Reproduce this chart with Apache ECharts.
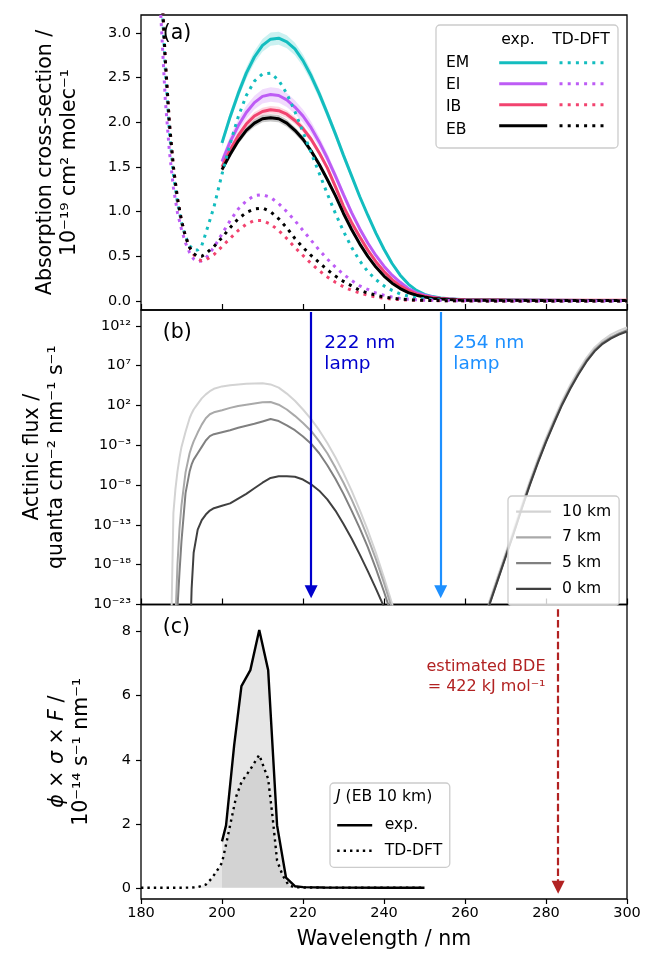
<!DOCTYPE html>
<html>
<head>
<meta charset="utf-8">
<script src="https://cdn.jsdelivr.net/npm/echarts@6/dist/echarts.min.js"></script>
<style>
  html, body { margin: 0; padding: 0; background: #fff; }
  #chart { width: 645px; height: 966px; }
</style>
</head>
<body>
<div id="chart"></div>
<script>
// ---------- (a) absorption cross-sections, 1e-19 cm^2 molec^-1 ----------
const absExpNm = [200, 202, 204, 206, 208, 210, 212, 214, 216, 218, 220, 222, 224, 226, 228, 230,
  232, 234, 236, 238, 240, 242, 244, 246, 248, 250, 252, 254, 256, 258, 260, 270, 280, 290, 300];
const sigmaExpEM = [1.77, 2.06, 2.32, 2.55, 2.73, 2.86, 2.93, 2.94, 2.90, 2.82, 2.69, 2.52, 2.32, 2.10, 1.87, 1.63,
  1.40, 1.17, 0.96, 0.76, 0.58, 0.42, 0.29, 0.19, 0.12, 0.075, 0.05, 0.035, 0.025, 0.02, 0.015, 0.01, 0.008, 0.006, 0.005];
const sigmaExpEI = [1.56, 1.78, 1.96, 2.11, 2.22, 2.29, 2.31, 2.30, 2.25, 2.17, 2.07, 1.94, 1.78, 1.60, 1.40, 1.19,
  0.99, 0.81, 0.65, 0.51, 0.39, 0.29, 0.21, 0.14, 0.095, 0.065, 0.045, 0.03, 0.022, 0.017, 0.013, 0.01, 0.008, 0.006, 0.005];
const sigmaExpIB = [1.50, 1.69, 1.85, 1.98, 2.07, 2.12, 2.14, 2.13, 2.09, 2.02, 1.93, 1.81, 1.66, 1.49, 1.28, 1.06,
  0.88, 0.72, 0.57, 0.44, 0.33, 0.24, 0.17, 0.12, 0.08, 0.055, 0.04, 0.03, 0.022, 0.018, 0.015, 0.012, 0.01, 0.01, 0.01];
const sigmaExpEB = [1.47, 1.64, 1.79, 1.91, 1.99, 2.04, 2.05, 2.04, 1.99, 1.91, 1.81, 1.68, 1.53, 1.36, 1.18, 0.98,
  0.80, 0.64, 0.50, 0.38, 0.28, 0.20, 0.14, 0.095, 0.065, 0.045, 0.03, 0.022, 0.017, 0.013, 0.01, 0.008, 0.006, 0.005, 0.005];
// relative uncertainty of the measured spectra (EM, EI, IB, EB)
const relUncertainty = [0.025, 0.035, 0.02, 0.02];

const absTdNm = [182, 184, 185, 186, 187, 188, 189, 190, 191, 192, 193, 194, 195, 196, 198,
  200, 202, 204, 206, 208, 210, 212, 214, 216, 218, 220, 222, 224, 226, 228, 230,
  232, 234, 236, 238, 240, 242, 244, 246, 248, 250, 252, 254, 256, 258, 260, 270, 280, 290, 300];
const sigmaTdEM = [6.0, 4.4, 3.5, 2.6, 1.9, 1.42, 1.1, 0.88, 0.72, 0.62, 0.57, 0.57, 0.62, 0.76, 1.05,
  1.42, 1.76, 2.06, 2.30, 2.46, 2.54, 2.55, 2.47, 2.32, 2.12, 1.89, 1.66, 1.43, 1.20, 0.98, 0.78,
  0.60, 0.45, 0.33, 0.24, 0.17, 0.12, 0.08, 0.055, 0.035, 0.025, 0.017, 0.012, 0.008, 0.006, 0.005, 0.003, 0.002, 0.001, 0.001];
const sigmaTdEI = [6.5, 4.0, 3.1, 2.25, 1.68, 1.27, 0.99, 0.80, 0.65, 0.54, 0.47, 0.44, 0.45, 0.48, 0.60,
  0.75, 0.90, 1.03, 1.12, 1.18, 1.19, 1.16, 1.09, 1.00, 0.90, 0.79, 0.68, 0.57, 0.47, 0.38, 0.30,
  0.23, 0.17, 0.13, 0.09, 0.065, 0.045, 0.03, 0.02, 0.015, 0.01, 0.008, 0.006, 0.005, 0.004, 0.003, 0.002, 0.001, 0.001, 0.001];
const sigmaTdIB = [7.0, 4.6, 3.6, 2.7, 2.0, 1.5, 1.15, 0.90, 0.72, 0.60, 0.52, 0.47, 0.45, 0.46, 0.52,
  0.61, 0.70, 0.79, 0.86, 0.90, 0.90, 0.86, 0.79, 0.70, 0.60, 0.51, 0.42, 0.34, 0.27, 0.21, 0.16,
  0.12, 0.09, 0.065, 0.045, 0.032, 0.022, 0.015, 0.011, 0.008, 0.006, 0.005, 0.004, 0.003, 0.003, 0.002, 0.001, 0.001, 0.001, 0.001];
const sigmaTdEB = [7.0, 4.6, 3.6, 2.7, 2.0, 1.5, 1.15, 0.90, 0.72, 0.60, 0.53, 0.50, 0.50, 0.53, 0.61,
  0.71, 0.82, 0.92, 0.99, 1.03, 1.04, 1.00, 0.92, 0.82, 0.70, 0.60, 0.51, 0.43, 0.35, 0.28, 0.22,
  0.17, 0.12, 0.09, 0.065, 0.045, 0.032, 0.022, 0.015, 0.011, 0.008, 0.006, 0.005, 0.004, 0.003, 0.003, 0.001, 0.001, 0.001, 0.001];

const species = ['EM', 'EI', 'IB', 'EB'];
const speciesColors = ['#13bdbf', '#bd5cf5', '#f2436f', '#000000'];
const absTicks = [0, 0.5, 1.0, 1.5, 2.0, 2.5, 3.0];

// ---------- (b) actinic flux, log10(quanta cm^-2 nm^-1 s^-1) ----------
const fluxNm = [187.5, 188, 188.5, 189, 189.5, 190, 191, 192, 192.5, 193, 194, 195, 196, 197, 198,
  200, 202, 204, 206, 208, 210, 212, 214, 216, 218, 220, 222, 224, 226, 228, 230, 232, 234, 236, 238, 240, 242, 244,
  264, 266, 268, 270, 272, 274, 276, 278, 280, 282, 284, 286, 288, 290, 292, 294, 296, 298, 300];
const logFlux10km = [-25, -11.5, -8.5, -6.3, -4.6, -3.2, -1.3, 0.4, 1.0, 1.5, 2.2, 2.9, 3.4, 3.8, 4.1,
  4.4, 4.55, 4.65, 4.72, 4.78, 4.8, 4.65, 4.25, 3.5, 2.6, 1.5, 0.3, -1.1, -2.7, -4.5, -6.5, -8.7, -11.1, -13.7, -16.5, -19.6, -22.9, -26.5,
  -30, -22.6, -19.6, -16.6, -13.6, -10.5, -7.5, -4.7, -2.1, 0.3, 2.6, 4.6, 6.4, 8.0, 9.3, 10.2, 10.9, 11.4, 11.8];
const logFlux7km = [-40, -33, -25, -18, -13.5, -10.5, -6.4, -4.0, -3.2, -2.5, -1.4, -0.4, 0.4, 0.9, 1.15,
  1.4, 1.7, 1.95, 2.1, 2.25, 2.4, 2.45, 2.1, 1.5, 0.7, -0.2, -1.2, -2.5, -4.0, -5.8, -7.7, -9.8, -12.1, -14.6, -17.3, -20.3, -23.6, -27,
  -30, -22.9, -19.9, -16.9, -13.9, -10.8, -7.8, -5.0, -2.4, 0.0, 2.3, 4.3, 6.1, 7.7, 9.0, 9.95, 10.6, 11.1, 11.5];
const logFlux5km = [-45, -40, -32, -23.5, -19, -15, -9.0, -6.3, -5.4, -4.8, -4.0, -3.2, -2.4, -1.85, -1.6,
  -1.35, -1.1, -0.8, -0.55, -0.3, 0.0, 0.3, 0.05, -0.5, -1.1, -1.9, -2.8, -4.0, -5.5, -7.2, -9.1, -11.2, -13.4, -15.8, -18.5, -21.4, -24.5, -28,
  -30, -23.0, -20.0, -17.0, -14.0, -10.9, -7.9, -5.1, -2.5, -0.1, 2.2, 4.2, 6.0, 7.6, 8.9, 9.85, 10.5, 11.0, 11.4];
const logFlux0km = [-60, -55, -50, -45, -42, -40, -35, -30, -21, -16.5, -13.6, -12.4, -11.7, -11.2, -10.9,
  -10.6, -10.3, -9.7, -9.1, -8.4, -7.7, -7.1, -6.9, -6.9, -6.95, -7.3, -7.9, -8.7, -9.8, -11.2, -12.9, -14.7, -16.7, -18.8, -21.0, -23.3, -26, -29,
  -30, -23.1, -20.1, -17.1, -14.1, -11.0, -8.0, -5.2, -2.6, -0.2, 2.1, 4.1, 5.9, 7.5, 8.8, 9.75, 10.4, 10.9, 11.3];
const altitudes = ['10 km', '7 km', '5 km', '0 km'];
const altitudeColors = ['#d3d3d3', '#a9a9a9', '#808080', '#404040'];
const fluxTicks = [-23, -18, -13, -8, -3, 2, 7, 12];
const lampNm = [222, 254];

// ---------- (c) photolysis-rate integrand, 1e-14 s^-1 nm^-1 ----------
const jExpNm = [200, 201, 203, 204.8, 207, 209.2, 211.4, 213.6, 215.8, 218, 220, 225, 230, 240, 250];
const jExp = [1.45, 1.95, 4.45, 6.3, 6.8, 8.05, 6.8, 1.95, 0.32, 0.05, 0.02, 0.01, 0.005, 0.002, 0.001];
const jTdNm = [180, 186, 192, 194, 196, 197.5, 199, 200, 201, 202.5, 203.5, 204.8, 207, 209.2, 211.4,
  212.5, 213.6, 215, 216.5, 218, 220, 230, 250];
const jTd = [0, 0, 0.005, 0.02, 0.1, 0.3, 0.58, 0.78, 1.35, 2.25, 2.85, 3.3, 3.7, 4.15, 3.4,
  2.2, 0.85, 0.38, 0.07, 0.02, 0.01, 0.003, 0.001];
const jTicks = [0, 2, 4, 6, 8];
const bdeNm = 283;

// ---------- styling helpers ----------
const FONT = "'DejaVu Sans', sans-serif";
const SUP = { '0': '⁰', '1': '¹', '2': '²', '3': '³', '4': '⁴', '5': '⁵', '6': '⁶', '7': '⁷', '8': '⁸', '9': '⁹', '-': '⁻' };
const pow10Label = e => '10' + String(e).split('').map(c => SUP[c]).join('');
const pairs = (xs, ys) => xs.map((x, i) => [x, ys[i]]);

const gridRects = [
  { left: 141, right: 18, top: 15, height: 295 },
  { left: 141, right: 18, top: 310, height: 294.5 },
  { left: 141, right: 18, top: 604.5, height: 294.5 }
];

function xAxisFor(i) {
  const last = i === 2;
  return {
    type: 'value', gridIndex: i, min: 180, max: 300, interval: 20,
    axisLine: { show: false, onZero: false },
    axisTick: { show: true, inside: !last, length: last ? 5 : 6, lineStyle: { color: '#000', width: 1.2 } },
    axisLabel: { show: last, color: '#000', fontSize: 14.5, fontFamily: FONT, margin: 7 },
    splitLine: { show: false },
    name: last ? 'Wavelength / nm' : '',
    nameLocation: 'middle', nameGap: 30,
    nameTextStyle: { color: '#000', fontSize: 20.5, fontFamily: FONT }
  };
}

function yAxisFor(i, min, max, ticks, fmt, name, gap, rich) {
  return {
    type: 'value', gridIndex: i, min: min, max: max,
    axisLine: { show: false, onZero: false },
    axisTick: { show: true, length: 5, customValues: ticks, lineStyle: { color: '#000', width: 1.2 } },
    axisLabel: { customValues: ticks, formatter: fmt, color: '#000', fontSize: 14.5, fontFamily: FONT, margin: 10 },
    splitLine: { show: false },
    name: name, nameLocation: 'middle', nameRotate: 90, nameGap: gap,
    nameTextStyle: { color: '#000', fontSize: 20.5, fontFamily: FONT, lineHeight: 24, rich: rich || {} }
  };
}

// shaded uncertainty band around a measured spectrum
function bandSeries(values, frac, color) {
  return {
    type: 'custom', xAxisIndex: 0, yAxisIndex: 0, silent: true, clip: true, z: 1,
    data: [[absExpNm[0], values[0]]],
    renderItem: function (params, api) {
      const upper = absExpNm.map((x, k) => api.coord([x, values[k] * (1 + frac)]));
      const lower = absExpNm.map((x, k) => api.coord([x, values[k] * (1 - frac)])).reverse();
      return { type: 'polygon', shape: { points: upper.concat(lower) }, style: { fill: color, opacity: 0.22 } };
    }
  };
}

const expSets = [sigmaExpEM, sigmaExpEI, sigmaExpIB, sigmaExpEB];
const tdSets = [sigmaTdEM, sigmaTdEI, sigmaTdIB, sigmaTdEB];
const fluxSets = [logFlux10km, logFlux7km, logFlux5km, logFlux0km];

const series = [];
species.forEach((sp, k) => {
  series.push(bandSeries(expSets[k], relUncertainty[k], speciesColors[k]));
});
species.forEach((sp, k) => {
  series.push({
    name: sp, type: 'line', xAxisIndex: 0, yAxisIndex: 0, symbol: 'none', clip: true, z: 2,
    data: pairs(absExpNm, expSets[k]),
    lineStyle: { color: speciesColors[k], width: 3 }, itemStyle: { color: speciesColors[k] }
  });
});
species.forEach((sp, k) => {
  series.push({
    name: sp + ' TD-DFT', type: 'line', xAxisIndex: 0, yAxisIndex: 0, symbol: 'none', clip: true, z: 3,
    data: pairs(absTdNm, tdSets[k]),
    lineStyle: { color: speciesColors[k], width: 3, type: [3, 5.2], cap: 'butt' }, itemStyle: { color: speciesColors[k] }
  });
});
altitudes.forEach((alt, k) => {
  const s = {
    name: alt, type: 'line', xAxisIndex: 1, yAxisIndex: 1, symbol: 'none', clip: true,
    data: pairs(fluxNm, fluxSets[k]),
    lineStyle: { color: altitudeColors[k], width: 2 }, itemStyle: { color: altitudeColors[k] }
  };
  if (k === 0) {
    s.markLine = {
      silent: true, symbol: ['none', 'triangle'], symbolSize: [13, 13],
      label: { show: false }, lineStyle: { width: 2.2, type: 'solid' },
      data: [
        [{ coord: [lampNm[0], 13.75], lineStyle: { color: '#0000cd' } }, { coord: [lampNm[0], -21.4] }],
        [{ coord: [lampNm[1], 13.75], lineStyle: { color: '#1e90ff' } }, { coord: [lampNm[1], -21.4] }]
      ]
    };
  }
  series.push(s);
});
series.push({
  name: 'exp.', type: 'line', xAxisIndex: 2, yAxisIndex: 2, symbol: 'none', clip: true,
  data: pairs(jExpNm, jExp),
  lineStyle: { color: '#000', width: 2.4 }, itemStyle: { color: '#000' },
  areaStyle: { color: 'rgba(160,160,160,0.37)' },
  markLine: {
    silent: true, symbol: ['none', 'triangle'], symbolSize: [13, 13],
    label: { show: false }, lineStyle: { width: 2.2, type: [7.5, 3.3], color: '#b22222' },
    data: [[{ coord: [bdeNm, 8.7] }, { coord: [bdeNm, 0.02] }]]
  }
});
series.push({
  name: 'TD-DFT', type: 'line', xAxisIndex: 2, yAxisIndex: 2, symbol: 'none', clip: true,
  data: pairs(jTdNm, jTd),
  lineStyle: { color: '#000', width: 2.4, type: [2.4, 4], cap: 'butt' }, itemStyle: { color: '#000' },
  areaStyle: { color: 'rgba(160,160,160,0.37)' }
});

const txt = (x, y, text, extra) => Object.assign({
  type: 'text', x: x, y: y, z: 10,
  style: Object.assign({ text: text, fill: '#000', fontSize: 15.6, fontFamily: FONT, align: 'left', verticalAlign: 'middle' }, extra || {})
});

// legend handles are plain line samples, no marker
const handleOnly = { opacity: 0 };

const option = {
  animation: false,
  backgroundColor: '#fff',
  textStyle: { fontFamily: FONT },
  grid: gridRects.map(g => Object.assign({ show: true, borderColor: '#000', borderWidth: 1.3, backgroundColor: 'transparent' }, g)),
  xAxis: [xAxisFor(0), xAxisFor(1), xAxisFor(2)],
  yAxis: [
    yAxisFor(0, -0.1, 3.2, absTicks, v => v.toFixed(1), 'Absorption cross-section /\n10⁻¹⁹ cm² molec⁻¹', 59),
    yAxisFor(1, -23, 14, fluxTicks, v => pow10Label(v), 'Actinic flux /\nquanta cm⁻² nm⁻¹ s⁻¹', 72),
    yAxisFor(2, -0.35, 8.85, jTicks, v => String(v), '{i|ϕ} × {i|σ} × {i|F} /\n10⁻¹⁴ s⁻¹ nm⁻¹', 47,
      { i: { fontStyle: 'italic', fontSize: 20.5, fontFamily: FONT, color: '#000' } })
  ],
  legend: [
    {
      data: species, formatter: () => '', orient: 'vertical', left: 497.7, top: 55.7, padding: 0,
      itemWidth: 48, itemHeight: 14, itemGap: 8.4, lineStyle: { width: 3 }, itemStyle: handleOnly, selectedMode: false
    },
    {
      data: species.map(s => s + ' TD-DFT'), formatter: () => '', orient: 'vertical', left: 558, top: 55.7, padding: 0,
      itemWidth: 47, itemHeight: 14, itemGap: 8.4, lineStyle: { width: 3 }, itemStyle: handleOnly, selectedMode: false
    },
    {
      data: altitudes, orient: 'vertical', left: 508, top: 496, padding: [7.7, 8, 8.6, 7],
      itemWidth: 35, itemHeight: 14, itemGap: 9.7, lineStyle: { width: 2.2 }, itemStyle: handleOnly, selectedMode: false,
      backgroundColor: 'rgba(255,255,255,0.8)', borderColor: '#cccccc', borderWidth: 1.3, borderRadius: 4,
      textStyle: { color: '#000', fontSize: 15.6, fontFamily: FONT, padding: [0, 0, 0, 6] }
    },
    {
      data: ['exp.', 'TD-DFT'], orient: 'vertical', left: 330, top: 783, padding: [34.3, 7.6, 8.6, 6],
      itemWidth: 35, itemHeight: 14, itemGap: 9.4, lineStyle: { width: 2.4 }, itemStyle: handleOnly, selectedMode: false,
      backgroundColor: 'rgba(255,255,255,0.8)', borderColor: '#cccccc', borderWidth: 1.3, borderRadius: 4,
      textStyle: { color: '#000', fontSize: 15.6, fontFamily: FONT, padding: [0, 0, 0, 7.6] }
    }
  ],
  graphic: [
    { type: 'rect', z: 3, shape: { x: 436, y: 25, width: 182, height: 123, r: 4 },
      style: { fill: 'rgba(255,255,255,0.8)', stroke: '#cccccc', lineWidth: 1.3 } },
    txt(518, 40, 'exp.', { align: 'center' }),
    txt(581, 40, 'TD-DFT', { align: 'center' }),
    txt(446, 62.7, species[0]),
    txt(446, 85, species[1]),
    txt(446, 107.3, species[2]),
    txt(446, 130, species[3]),
    txt(162.7, 34, '(a)', { fontSize: 20.5 }),
    txt(162.7, 332.5, '(b)', { fontSize: 20.5 }),
    txt(162.7, 627.5, '(c)', { fontSize: 20.5 }),
    txt(324.3, 332.8, '222 nm\nlamp', { fill: '#0000cd', fontSize: 18.5, lineHeight: 21, verticalAlign: 'top' }),
    txt(453.3, 332.8, '254 nm\nlamp', { fill: '#1e90ff', fontSize: 18.5, lineHeight: 21, verticalAlign: 'top' }),
    txt(545.5, 656.4, 'estimated BDE\n= 422 kJ mol⁻¹', { fill: '#b22222', fontSize: 16, lineHeight: 20.6, align: 'right', verticalAlign: 'top' }),
    txt(336, 797.3, '{i|J} (EB 10 km)', { rich: { i: { fontStyle: 'italic', fontSize: 15.6, fontFamily: FONT, fill: '#000' } } })
  ],
  series: series
};

const chart = echarts.init(document.getElementById('chart'), null, { renderer: 'canvas' });
chart.setOption(option);
</script>
</body>
</html>
